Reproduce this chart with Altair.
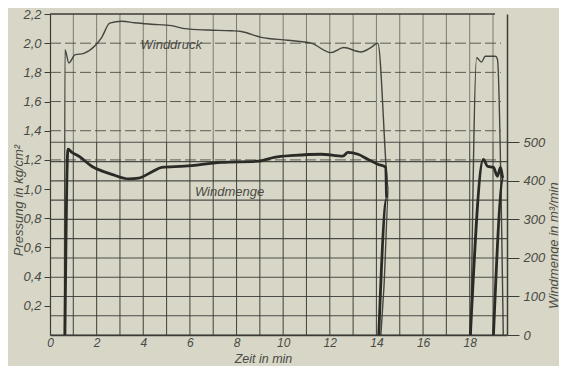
import altair as alt
import pandas as pd

# ---------------- data ----------------
# Winddruck (kg/cm^2) – pen trace, two runs
druck_t1 = [0.62, 0.64, 0.81, 1.07, 1.45, 1.92, 2.22, 2.56, 3.08, 3.63, 4.36, 5.21, 5.77,
            6.79, 7.78, 8.20, 9.06, 10.2, 11.2, 12.05, 12.6, 13.33, 13.76, 14.06, 14.53, 14.32, 14.19]
druck_p1 = [0.0, 1.955, 1.865, 1.92, 1.93, 1.98, 2.04, 2.137, 2.15, 2.14, 2.13, 2.12, 2.10,
            2.09, 2.085, 2.08, 2.04, 2.02, 2.00, 1.935, 1.97, 1.94, 1.97, 2.00, 1.00, 0.32, 0.0]
druck_t2 = [18.05, 18.3, 18.5, 18.67, 19.10, 19.19, 19.44]
druck_p2 = [0.0, 1.90, 1.87, 1.91, 1.91, 1.89, 0.0]

# Windmenge (m^3/min)
menge_t1 = [0.64, 0.77, 0.94, 1.24, 1.79, 2.65, 3.38, 3.80, 4.36, 4.79, 5.77, 7.35, 8.93,
            9.62, 10.47, 11.62, 12.56, 12.78, 13.21, 13.63, 14.06, 14.40, 14.44, 14.10]
menge_q1 = [0, 482, 474, 464, 438, 417, 405, 407, 423, 435, 438, 448, 451,
            461, 466, 469, 464, 474, 469, 456, 443, 435, 353, 0]
menge_t2 = [18.03, 18.59, 18.76, 19.02, 19.19, 19.32, 19.44, 19.02]
menge_q2 = [0, 456, 438, 435, 412, 435, 405, 0]

# axes / grid
x_ticks = [0, 2, 4, 6, 8, 10, 12, 14, 16, 18]
x_grid = list(range(1, 20))
p_ticks = [0.2, 0.4, 0.6, 0.8, 1.0, 1.2, 1.4, 1.6, 1.8, 2.0, 2.2]
p_dashed = [1.2, 1.4, 1.6, 1.8, 2.0]
p_top = [2.2]
q_ticks = [0, 100, 200, 300, 400, 500]
q_grid = [0, 50, 100, 150, 200, 250, 300, 350, 400, 450, 500]
q_split = 500

labels_p = [{"t": 5.2, "p": 1.99, "text": "Winddruck"}]
labels_q = [{"t": 7.7, "q": 371, "text": "Windmenge"}]

# ---------------- styling ----------------
INK = "#3c3c37"
TXT = "#4a4a44"
BG = "#d8d7c7"
FONT = "Liberation Sans"
W, H = 457, 321
X_MAX = 19.6
P_MAX = 2.2
Q_MAX = 833

xscale = alt.Scale(domain=[0, X_MAX], nice=False, zero=False)
pscale = alt.Scale(domain=[0, P_MAX], nice=False, zero=False)
qscale = alt.Scale(domain=[0, Q_MAX], nice=False, zero=False)

xaxis = alt.Axis(values=x_ticks, title="Zeit in min", grid=False, ticks=False,
                 domain=True, domainColor=INK, domainWidth=1.5,
                 labelFont=FONT, labelFontStyle="italic", labelFontSize=12, labelColor=TXT,
                 labelPadding=2, labelFlush=False,
                 titleFont=FONT, titleFontStyle="italic", titleFontSize=12.5, titleColor=TXT,
                 titleFontWeight="normal", titleX=213, titleY=27, titleAlign="center",
                 titleBaseline="alphabetic")

paxis = alt.Axis(values=p_ticks, orient="left", grid=False, tickSize=6, tickColor=INK,
                 domain=True, domainColor=INK, domainWidth=1.2,
                 labelExpr="replace(format(datum.value, '.1f'), '.', ',')",
                 labelFont=FONT, labelFontStyle="italic", labelFontSize=13, labelColor=TXT,
                 labelPadding=3,
                 title="Pressung in kg/cm²", titleFont=FONT, titleFontStyle="italic",
                 titleFontSize=13, titleColor=TXT, titleFontWeight="normal",
                 titleX=-32, titleY=186, titleAngle=270, titleAlign="center",
                 titleBaseline="middle")

qaxis = alt.Axis(values=q_ticks, orient="right", grid=False, tickSize=12, tickColor=INK,
                 domain=True, domainColor=INK, domainWidth=1.5,
                 labelFont=FONT, labelFontStyle="italic", labelFontSize=13, labelColor=TXT,
                 labelPadding=4,
                 title="Windmenge in m³/min", titleFont=FONT, titleFontStyle="italic",
                 titleFontSize=13, titleColor=TXT, titleFontWeight="normal",
                 titleX=46, titleY=231, titleAngle=270, titleAlign="center",
                 titleBaseline="middle")


def X(field="t"):
    return alt.X(f"{field}:Q", scale=xscale, axis=xaxis)


def P(field="p"):
    return alt.Y(f"{field}:Q", scale=pscale, axis=paxis)


def Qy(field="q"):
    return alt.Y(f"{field}:Q", scale=qscale, axis=qaxis)


# ---------------- tables ----------------
druck = pd.DataFrame(
    [{"t": t, "p": p, "seg": 1, "i": i} for i, (t, p) in enumerate(zip(druck_t1, druck_p1))]
    + [{"t": t, "p": p, "seg": 2, "i": i} for i, (t, p) in enumerate(zip(druck_t2, druck_p2))]
)
menge = pd.DataFrame(
    [{"t": t, "q": q, "seg": 1, "i": i} for i, (t, q) in enumerate(zip(menge_t1, menge_q1))]
    + [{"t": t, "q": q, "seg": 2, "i": i} for i, (t, q) in enumerate(zip(menge_t2, menge_q2))]
)
vgrid = pd.DataFrame({"t": x_grid, "q": [0] * len(x_grid), "q2": [q_split] * len(x_grid)})
hdash = pd.DataFrame({"p": p_dashed})
htop = pd.DataFrame({"p": p_top})
hq = pd.DataFrame({"q": q_grid})

# ---------------- left (pressure) group ----------------
dashed = alt.Chart(hdash).mark_rule(color=INK, strokeWidth=1, strokeDash=[11, 4], opacity=0.8).encode(
    y=P(), x=alt.value(0), x2=alt.value(W - 6))
top = alt.Chart(htop).mark_rule(color=INK, strokeWidth=1.3).encode(
    y=P(), x=alt.value(0), x2=alt.value(W - 12))
druck_line = alt.Chart(druck).mark_line(color="#45453f", strokeWidth=1.4, interpolate="monotone").encode(
    x=X(), y=P(), detail="seg:N", order="i:Q")
druck_lbl = alt.Chart(pd.DataFrame(labels_p)).mark_text(
    font=FONT, fontStyle="italic", fontSize=13, color=TXT).encode(x=X(), y=P(), text="text:N")
left = alt.layer(dashed, top, druck_line, druck_lbl)

# ---------------- right (Windmenge) group ----------------
vlow = alt.Chart(vgrid).mark_rule(color=INK, strokeWidth=1.1, opacity=0.9).encode(
    x=X(), y=Qy(), y2="q2:Q")
vup = alt.Chart(vgrid).mark_rule(color=INK, strokeWidth=0.8, opacity=0.75).encode(
    x=X(), y=Qy("q2"), y2=alt.value(0))
hsolid = alt.Chart(hq).mark_rule(color=INK, strokeWidth=1.1, opacity=0.9).encode(
    y=Qy(), x=alt.value(0), x2=alt.value(W))
menge_line = alt.Chart(menge).mark_line(color="#2a2a26", strokeWidth=2.8, interpolate="monotone").encode(
    x=X(), y=Qy(), detail="seg:N", order="i:Q")
menge_lbl = alt.Chart(pd.DataFrame(labels_q)).mark_text(
    font=FONT, fontStyle="italic", fontSize=13, color=TXT).encode(x=X(), y=Qy(), text="text:N")
right = alt.layer(vlow, vup, hsolid, menge_line, menge_lbl)

chart = (
    alt.layer(left, right)
    .resolve_scale(y="independent")
    .properties(width=W, height=H, background=BG,
                autosize=alt.AutoSizeParams(type="none"),
                padding={"left": 42, "top": 6, "right": 52, "bottom": 31})
    .configure_view(stroke=None)
)

chart.save("out.html", embed_options={"renderer": "svg", "actions": False})
